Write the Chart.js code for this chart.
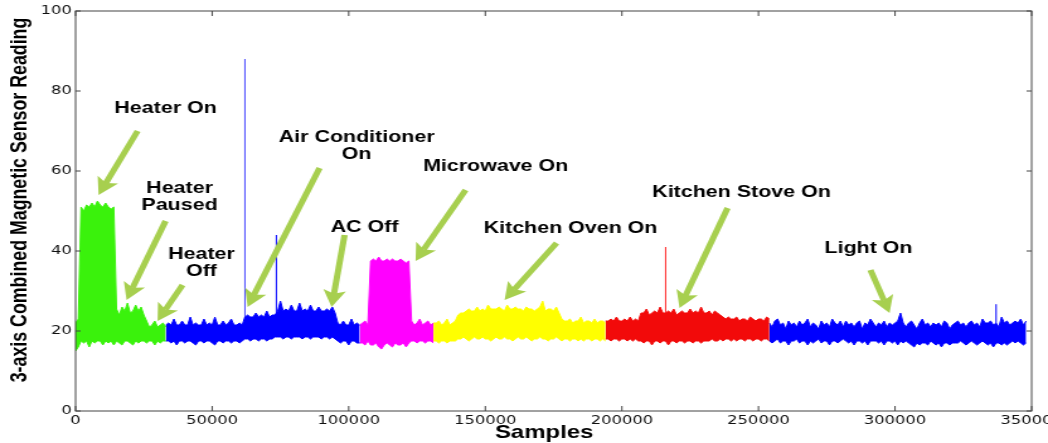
<!DOCTYPE html>
<html>
<head>
<meta charset="utf-8">
<script src="https://cdn.jsdelivr.net/npm/chart.js@4"></script>
<style>
  html, body { margin: 0; padding: 0; background: #fff; overflow: hidden; }
  /* the original figure is a horizontally stretched plot, so draw narrow and stretch */
  #wrap { width: 832px; height: 443px; transform: scaleX(1.2596); transform-origin: 0 0; }
</style>
</head>
<body>
<div id="wrap"><canvas id="magChart"></canvas></div>
<script>
// envelope of the noisy reading, one high/low pair every STEP samples
const STEP = 1000;

// heater on / paused / off (green)
const greenStart = 0;
const greenHigh = [22, 23, 51, 50, 51.5, 51, 52, 51, 52.5, 51.5, 51, 52, 51, 50.5, 51,
  25.5, 24, 26, 25, 27, 24.5, 25, 26.5, 25, 26, 24,
  22.5, 21, 21.5, 22.5, 21, 21.5, 22, 21];
const greenLow = [15, 16, 17.5, 17, 17.5, 16, 17.5, 17, 17.5, 17.5, 16.5, 17.5, 17, 17.5, 16.5,
  17.5, 17, 16.5, 17.5, 17.5, 17, 16.5, 17.5, 17, 17.5, 17.5,
  17, 17.5, 17.5, 16.5, 17.5, 17, 17.5, 17.5];

// air conditioner (blue)
const acStart = 33000;
const acHigh = [21.5, 22, 21.5, 23, 21.5, 21.5, 22.5, 21.5, 21.5, 23.5, 21.5, 22, 21.5, 21.5, 23,
  21.5, 22, 21.5, 23.5, 21.5, 21.5, 22.5, 21.5, 22, 23, 21.5, 21.5, 22, 21.5,
  23.5, 24, 23.5, 23.5, 24.5, 23.5, 24, 23.5, 25, 23.5, 24, 24,
  25, 27.5, 25, 25.5, 25, 26.5, 25, 25, 27, 25, 25.5, 25, 26.5, 25, 25, 26, 25, 25, 25.5, 25, 26, 24.5,
  22, 21.5, 22.5, 21.5, 21.5, 23, 21.5, 22, 21.5];
const acLow = [17.5, 17.5, 17, 17.5, 16.5, 17.5, 17.5, 17, 17.5, 17.5, 17, 16.5, 17.5, 17.5, 17,
  17.5, 17.5, 17, 16.5, 17.5, 17.5, 17, 17.5, 17.5, 17, 17.5, 17.5, 17, 17.5,
  18, 18, 17.5, 18, 18, 17.5, 18, 18, 17.5, 18, 18, 18.5,
  18.5, 18.5, 18, 18.5, 18.5, 18, 18.5, 18.5, 18.5, 18, 18.5, 18.5, 18, 18.5, 18.5, 18.5, 18, 18.5, 18.5, 18, 18.5, 18,
  17.5, 17, 17.5, 17.5, 16.5, 17.5, 17.5, 17, 17];

// microwave (magenta)
const microStart = 104000;
const microHigh = [21.5, 22, 22.5, 21.5,
  37.5, 38, 37.5, 38.5, 37.5, 37.5, 38, 37.5, 38, 37.5, 37.5, 38, 37.5, 37, 37.5,
  22.5, 21.5, 22, 23, 21.5, 22, 22.5, 21.5, 22];
const microLow = [17, 17, 16.5, 17.5, 16.5, 16.5, 17, 16, 15.5, 16.5, 17, 16.5, 16, 17,
  16.5, 16.5, 17, 16, 17, 17.5, 17.5, 17, 17.5, 17.5, 17, 17.5, 17.5, 17];

// kitchen oven (yellow)
const ovenStart = 131000;
const ovenHigh = [22, 22, 22.5, 21.5, 22, 23, 21.5, 22, 22.5,
  24, 24.5, 24.5, 25, 25.5, 25, 25, 26, 25, 25.5, 25, 26.5, 25.5, 25.5, 25.5, 26, 25.5, 25, 26.5,
  25.5, 25.5, 26, 25.5, 25.5, 25, 26, 25.5, 25.5, 25, 25.5, 26, 27.5, 25, 25.5, 25.5, 25, 26, 24.5,
  23, 22.5, 22.5, 23, 22, 22.5, 22.5, 23.5, 22, 22.5, 22.5, 22, 23, 22, 22.5, 22.5, 22];
const ovenLow = [17.5, 17.5, 17, 17.5, 17.5, 17, 17.5, 17.5, 17.5, 18, 18, 18.5, 18, 17.5, 18, 18.5,
  18, 18, 18.5, 18, 18, 17.5, 18, 18.5, 18, 18, 18.5, 18, 18, 17.5, 18, 18.5, 18, 18, 18.5, 18,
  17.5, 18, 18, 18.5, 18, 18, 17.5, 18, 18, 18.5, 18, 17.5, 18, 18, 17.5, 18, 18, 17.5, 18,
  17.5, 18, 18, 17.5, 18, 18, 17.5, 18, 17.5];

// kitchen stove (red)
const stoveStart = 194000;
const stoveHigh = [22.5, 22.5, 23, 22.5, 23.5, 22.5, 22.5, 23, 22.5, 23.5, 22.5, 23, 22.5,
  24.5, 24.5, 25.5, 24, 24.5, 25, 24.5, 26, 24.5, 24.5, 25, 24.5, 25.5, 24, 24.5, 25, 24.5,
  24.5, 25.5, 24.5, 25, 24.5, 26, 24.5, 24.5, 25, 24, 25, 24.5,
  24, 23.5, 23, 23.5, 23, 23, 23.5, 22.5, 23, 23, 22.5, 23.5, 23, 22.5, 23, 23, 22.5, 23.5, 23];
const stoveLow = [18, 18, 17.5, 18, 18, 17.5, 18, 18, 17.5, 18, 17.5, 18, 17.5, 17.5, 17, 17.5,
  17.5, 16.5, 17.5, 17.5, 17, 17.5, 17.5, 16.5, 17.5, 17.5, 17, 17.5, 17.5, 17, 17.5, 17.5,
  17, 17.5, 17.5, 17, 17.5, 17.5, 17.5, 18, 17.5, 17.5, 18, 17.5, 18, 18, 17.5, 18, 17.5, 18,
  18, 17.5, 18, 18, 17.5, 18, 18, 17.5, 18, 18, 17.5];

// light on (blue)
const lightStart = 254000;
const lightHigh = [22, 21, 22.5, 23, 21.5, 22, 20.5, 22.5, 21.5, 22,
  21, 22.5, 21.5, 22, 23, 21, 22, 21.5, 20.5, 22.5,
  21.5, 22, 21, 23, 22, 21.5, 22.5, 21, 22.5, 21.5,
  22, 21, 22, 22.5, 20.5, 22, 21.5, 23, 22, 21,
  22, 21.5, 22.5, 21, 22, 21.5, 22, 22.5, 24.5, 22,
  21, 22, 22.5, 21.5, 20.5, 22, 23, 21.5, 22, 21,
  22, 21.5, 22, 21, 22.5, 22, 20.5, 21.5, 22, 22.5,
  21.5, 22, 21, 22, 22.5, 21.5, 22, 21, 23, 22,
  22, 22.5, 21.5, 22, 21, 23.5, 22, 22.5, 21.5, 22,
  22.5, 22, 23, 21.5, 22.5];
const lightLow = [17.5, 17, 17.5, 18, 17, 17.5, 17.5, 16.5, 17.5, 17.5,
  18, 17, 17.5, 17.5, 16.5, 17.5, 17, 17.5, 18, 17,
  17.5, 17.5, 16.5, 17.5, 17.5, 17, 17.5, 18, 17.5, 17,
  17.5, 16.5, 17.5, 17.5, 17, 17.5, 16.5, 17.5, 17.5, 17.5,
  17, 17.5, 16.5, 17.5, 17.5, 17, 17.5, 16.5, 17.5, 17,
  17.5, 17, 16.5, 16, 17, 16.5, 17, 17, 16.5, 17.5,
  17, 16.5, 17, 16, 17, 17, 16.5, 17, 17, 17,
  17.5, 17, 16.5, 17, 17.5, 17, 16.5, 17, 17.5, 17,
  16.5, 17, 16, 17, 17, 16.5, 17, 16.5, 17, 17.5,
  17, 17.5, 17, 16.5, 17];

// single-sample spikes
const spikeX = [62000, 73500, 216000, 337000];
const spikeBase = [22, 23, 24, 22];
const spikeTop = [88, 44, 41, 26.7];

// annotations (data coordinates)
const noteText = [['Heater On'], ['Heater', 'Paused'], ['Heater', 'Off'], ['Air Conditioner', 'On'],
  ['AC Off'], ['Microwave On'], ['Kitchen Oven On'], ['Kitchen Stove On'], ['Light On']];
const noteX = [32950, 38070, 46100, 102900, 105800, 153800, 181200, 243800, 290300];
const noteY = [75.75, 55.75, 39.25, 68.5, 46, 61.25, 45.75, 54.75, 40.75];
const arrowFrom = [[22700, 70], [32950, 47.5], [39170, 31.5], [89330, 60.75], [98480, 44],
  [142780, 55.25], [176100, 42], [238700, 50.75], [291000, 35.25]];
const arrowTo = [[8420, 54], [18670, 27.75], [30020, 22.5], [62970, 26], [93720, 26],
  [124470, 37.5], [157060, 27.75], [221100, 25.75], [298000, 24.5]];

const xTitle = 'Samples';
const yTitle = '3-axis Combined Magnetic Sensor Reading';

function band(start, high, low, color) {
  const hi = high.map((v, i) => ({ x: start + i * STEP, y: v }));
  const lo = low.map((v, i) => ({ x: start + i * STEP, y: v }));
  return [
    { data: hi, borderColor: color, backgroundColor: color, borderWidth: 1, pointRadius: 0, fill: '+1' },
    { data: lo, borderColor: color, borderWidth: 1, pointRadius: 0, fill: false }
  ];
}

const spikeColors = ['#4646ff', '#0000ff', '#ff2020', '#0000ff'];
const spikes = spikeX.map((x, i) => ({
  data: [{ x, y: spikeBase[i] }, { x, y: spikeTop[i] }],
  borderColor: spikeColors[i], borderWidth: 1, pointRadius: 0, fill: false
}));

const datasets = [
  ...band(greenStart, greenHigh, greenLow, '#3af20c'),
  ...band(acStart, acHigh, acLow, '#0000ff'),
  ...band(microStart, microHigh, microLow, '#ff00ff'),
  ...band(ovenStart, ovenHigh, ovenLow, '#ffff00'),
  ...band(stoveStart, stoveHigh, stoveLow, '#f20a0a'),
  ...band(lightStart, lightHigh, lightLow, '#0000ff'),
  ...spikes
];

function drawArrow(ctx, x0, y0, x1, y1) {
  const ang = Math.atan2(y1 - y0, x1 - x0);
  const c = Math.cos(ang), s = Math.sin(ang);
  const headLen = 17, headW = 9;
  const bx = x1 - headLen * c, by = y1 - headLen * s;
  ctx.lineWidth = 5;
  ctx.beginPath();
  ctx.moveTo(x0, y0);
  ctx.lineTo(bx + 4 * c, by + 4 * s);
  ctx.stroke();
  ctx.beginPath();
  ctx.moveTo(x1, y1);
  ctx.lineTo(bx + headW * s, by - headW * c);
  ctx.lineTo(x1 - headLen * 0.78 * c, y1 - headLen * 0.78 * s);
  ctx.lineTo(bx - headW * s, by + headW * c);
  ctx.closePath();
  ctx.fill();
}

const overlay = {
  id: 'overlay',
  afterDatasetsDraw(chart) {
    const { ctx, chartArea: a, scales: { x, y } } = chart;
    ctx.save();
    // frame with inward ticks
    ctx.strokeStyle = '#444';
    ctx.lineWidth = 1;
    ctx.strokeRect(a.left, a.top, a.right - a.left, a.bottom - a.top);
    ctx.beginPath();
    x.ticks.forEach(t => {
      const px = x.getPixelForValue(t.value);
      ctx.moveTo(px, a.bottom); ctx.lineTo(px, a.bottom - 5);
      ctx.moveTo(px, a.top); ctx.lineTo(px, a.top + 5);
    });
    y.ticks.forEach(t => {
      const py = y.getPixelForValue(t.value);
      ctx.moveTo(a.left, py); ctx.lineTo(a.left + 4, py);
      ctx.moveTo(a.right, py); ctx.lineTo(a.right - 4, py);
    });
    ctx.stroke();

    // arrows
    ctx.strokeStyle = '#a7cf4f';
    ctx.fillStyle = '#a7cf4f';
    arrowFrom.forEach((f, i) => {
      drawArrow(ctx, x.getPixelForValue(f[0]), y.getPixelForValue(f[1]),
        x.getPixelForValue(arrowTo[i][0]), y.getPixelForValue(arrowTo[i][1]));
    });

    // labels
    ctx.fillStyle = '#000';
    ctx.font = "bold 17px 'Liberation Sans', Arial, sans-serif";
    ctx.textAlign = 'center';
    ctx.textBaseline = 'middle';
    noteText.forEach((lines, i) => {
      const px = x.getPixelForValue(noteX[i]);
      const py = y.getPixelForValue(noteY[i]);
      lines.forEach((txt, j) => ctx.fillText(txt, px, py + j * 17));
    });

    // axis titles
    ctx.textBaseline = 'alphabetic';
    ctx.font = "bold 19px 'Liberation Sans', Arial, sans-serif";
    ctx.fillText(xTitle, a.left + 372, a.bottom + 27);
    ctx.translate(a.left - 39, a.top + 189);
    ctx.rotate(-Math.PI / 2);
    ctx.font = "bold 17.8px 'Liberation Sans', Arial, sans-serif";
    ctx.fillText(yTitle, 0, 0);
    ctx.restore();
  }
};

new Chart(document.getElementById('magChart'), {
  type: 'line',
  data: { datasets },
  options: {
    responsive: true,
    maintainAspectRatio: false,
    animation: false,
    layout: { padding: { top: 11, right: 13, left: 0, bottom: 0 } },
    plugins: {
      legend: { display: false },
      tooltip: { enabled: false }
    },
    elements: { line: { tension: 0 } },
    scales: {
      x: {
        type: 'linear',
        min: 0,
        max: 350000,
        grid: { display: false, drawTicks: false },
        border: { display: false },
        ticks: {
          stepSize: 50000,
          autoSkip: false,
          maxRotation: 0,
          padding: 2,
          color: '#111',
          font: { family: "'DejaVu Sans'", size: 13 },
          callback: v => String(v)
        },
        afterFit(s) { s.height = 32; s.paddingLeft = 0; s.paddingRight = 0; }
      },
      y: {
        min: 0,
        max: 100,
        grid: { display: false, drawTicks: false },
        border: { display: false },
        ticks: {
          stepSize: 20,
          padding: 3,
          color: '#111',
          font: { family: "'DejaVu Sans'", size: 13 }
        },
        afterFit(s) { s.width = 60; s.paddingTop = 0; s.paddingBottom = 0; }
      }
    }
  },
  plugins: [overlay]
});
</script>
</body>
</html>
